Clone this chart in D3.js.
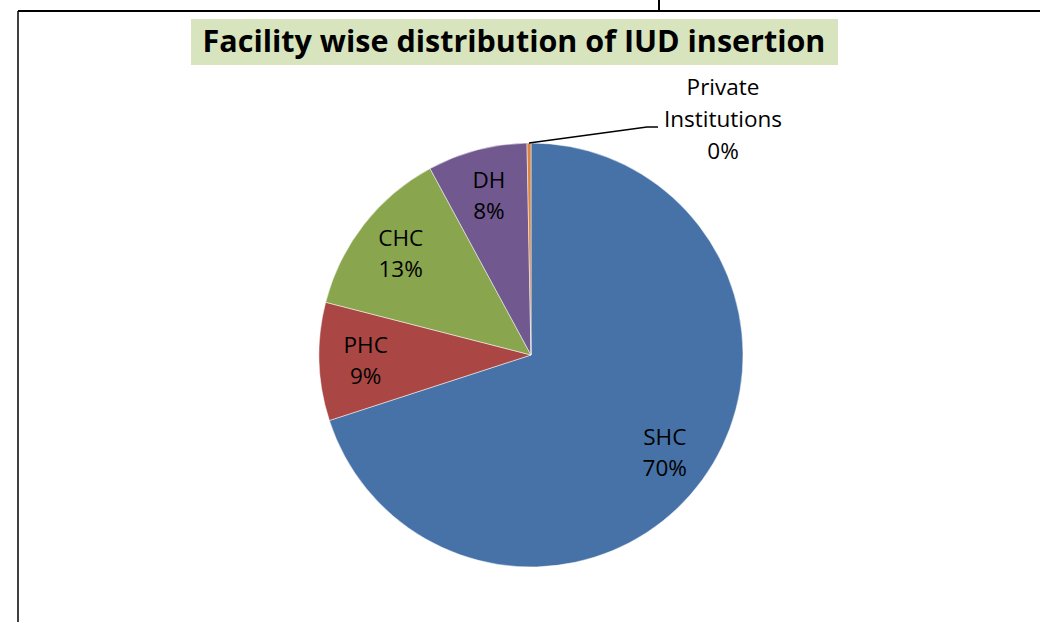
<!DOCTYPE html>
<html>
<head>
<meta charset="utf-8">
<script src="https://cdn.jsdelivr.net/npm/d3@7"></script>
<style>
  body { margin: 0; background: #fff; }
  svg { display: block; }
</style>
</head>
<body>
<script>
const width = 1040;
const height = 622;

// data
const categories = ['SHC', 'PHC', 'CHC', 'DH', 'Private Institutions'];
const values = [70.0, 9.0, 13.1, 7.6, 0.3];
const colors = ['#4672A8', '#AA4744', '#89A54E', '#71598F', '#DB843D'];
const title = 'Facility wise distribution of IUD insertion';

const svg = d3.select('body')
    .append('svg')
    .attr('width', width)
    .attr('height', height);

// frame lines (cropped chart border)
svg.append('line')
    .attr('x1', 18).attr('y1', 11).attr('x2', width).attr('y2', 11)
    .attr('stroke', '#000').attr('stroke-width', 2);
svg.append('line')
    .attr('x1', 18).attr('y1', 11).attr('x2', 18).attr('y2', height)
    .attr('stroke', '#000').attr('stroke-width', 1.5);
svg.append('line')
    .attr('x1', 659).attr('y1', 0).attr('x2', 659).attr('y2', 11)
    .attr('stroke', '#000').attr('stroke-width', 2);

// title with green box
svg.append('rect')
    .attr('x', 191).attr('y', 19)
    .attr('width', 647).attr('height', 46)
    .attr('fill', '#D7E4BD');
svg.append('text')
    .attr('x', 514).attr('y', 52)
    .attr('text-anchor', 'middle')
    .attr('font-family', 'Open Sans, sans-serif')
    .attr('font-weight', 'bold')
    .attr('font-size', 30.5)
    .text(title);

const cx = 531, cy = 355, r = 212;
const total = d3.sum(values);
const data = categories.map((c, i) => ({ name: c, value: values[i], color: colors[i] }));

const pie = d3.pie().value(d => d.value).sort(null);
const arc = d3.arc().innerRadius(0).outerRadius(r);
const labelArc = d3.arc().innerRadius(r * 0.78).outerRadius(r * 0.78);

const g = svg.append('g').attr('transform', `translate(${cx},${cy})`);
const arcs = pie(data);

g.selectAll('path')
    .data(arcs)
    .enter()
    .append('path')
    .attr('d', arc)
    .attr('fill', d => d.data.color)
    .attr('stroke', '#fff')
    .attr('stroke-width', 0.5);

const fmt = v => Math.round(v / total * 100) + '%';

// inside labels
arcs.filter(d => d.data.value / total > 0.02).forEach(d => {
    const [x, y] = labelArc.centroid(d);
    const t = g.append('text')
        .attr('text-anchor', 'middle')
        .attr('font-family', 'Open Sans, sans-serif')
        .attr('font-size', 22.5)
        .attr('fill', '#000');
    t.append('tspan').attr('x', x).attr('y', y - 7.5).text(d.data.name);
    t.append('tspan').attr('x', x).attr('y', y + 24).text(fmt(d.data.value));
});

// small slice label with leader line
arcs.filter(d => d.data.value / total <= 0.02).forEach(d => {
    const mid = (d.startAngle + d.endAngle) / 2;
    const px = Math.sin(mid) * r, py = -Math.cos(mid) * r;
    const lx = 192, ly = -228;
    g.append('polyline')
        .attr('points', `${px},${py} ${lx - 76},${ly} ${lx - 65},${ly}`)
        .attr('fill', 'none')
        .attr('stroke', '#000')
        .attr('stroke-width', 1.5);
    const lines = d.data.name.split(' ').concat([fmt(d.data.value)]);
    const t = g.append('text')
        .attr('text-anchor', 'middle')
        .attr('font-family', 'Open Sans, sans-serif')
        .attr('font-size', 22.5)
        .attr('fill', '#000');
    lines.forEach((w, i) => {
        t.append('tspan').attr('x', lx).attr('y', -260 + i * 32).text(w);
    });
});
</script>
</body>
</html>
